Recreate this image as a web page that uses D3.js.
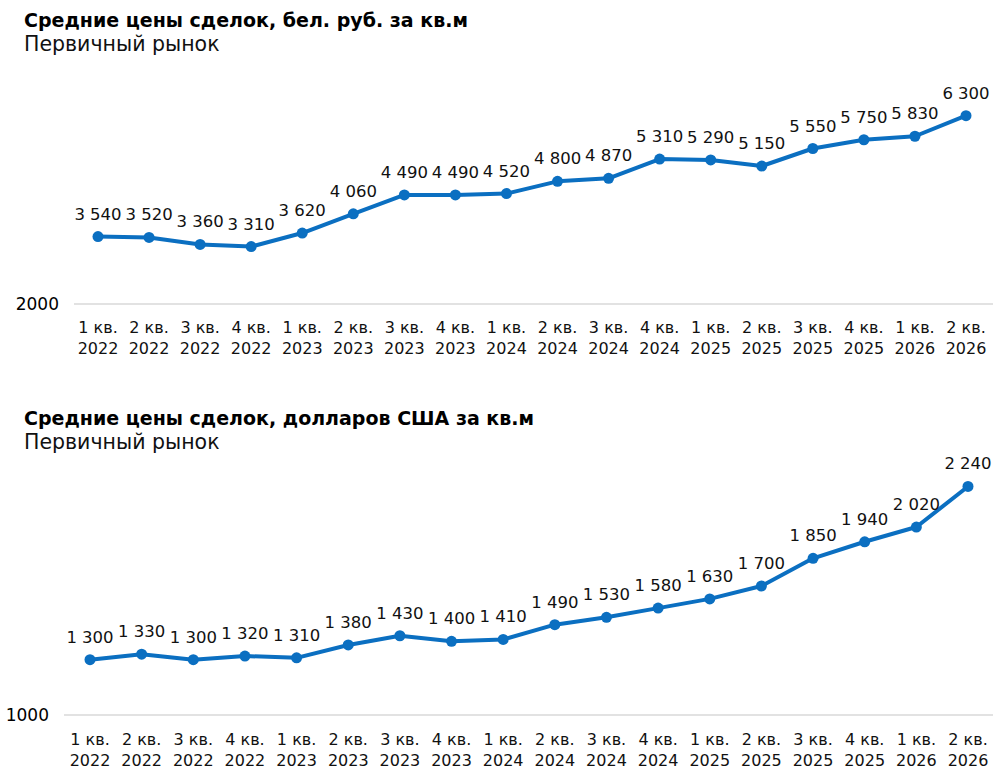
<!DOCTYPE html>
<html>
<head>
<meta charset="utf-8">
<script src="https://cdn.jsdelivr.net/npm/d3@7"></script>
<style>
  body { margin: 0; background: #fff; }
  svg { font-family: "DejaVu Sans", sans-serif; }
</style>
</head>
<body>
<svg id="chart" width="1000" height="783"></svg>
<script>
const quarters = ["1 кв.", "2 кв.", "3 кв.", "4 кв.", "1 кв.", "2 кв.", "3 кв.", "4 кв.", "1 кв.",
  "2 кв.", "3 кв.", "4 кв.", "1 кв.", "2 кв.", "3 кв.", "4 кв.", "1 кв.", "2 кв."];
const years = ["2022", "2022", "2022", "2022", "2023", "2023", "2023", "2023", "2024",
  "2024", "2024", "2024", "2025", "2025", "2025", "2025", "2026", "2026"];
const bynValues = [3540, 3520, 3360, 3310, 3620, 4060, 4490, 4490, 4520, 4800, 4870, 5310, 5290, 5150, 5550, 5750, 5830, 6300];
const usdValues = [1300, 1330, 1300, 1320, 1310, 1380, 1430, 1400, 1410, 1490, 1530, 1580, 1630, 1700, 1850, 1940, 2020, 2240];
const bynTicks = [2000];
const usdTicks = [1000];

const svg = d3.select("#chart");
const blue = "#0b6fc1";
const fmt = v => d3.format(",")(v).replace(/,/g, "\u00a0");

function drawPanel(opts) {
  const g = svg.append("g");
  const idx = d3.range(opts.values.length);

  const x = d3.scalePoint().domain(idx).range(opts.xRange);
  const y = d3.scaleLinear().domain(opts.yDomain).range(opts.yRange);

  g.append("text")
    .attr("x", 24).attr("y", opts.titleY)
    .attr("font-size", 19).attr("font-weight", "bold").attr("fill", "#000")
    .text(opts.title);
  g.append("text")
    .attr("x", 24).attr("y", opts.titleY + 24)
    .attr("font-size", 20.5).attr("fill", "#111")
    .text("Первичный рынок");

  // gridline + tick label
  g.selectAll(".grid")
    .data(opts.ticks)
    .enter()
    .append("line")
    .attr("x1", opts.gridX[0]).attr("x2", opts.gridX[1])
    .attr("y1", d => y(d)).attr("y2", d => y(d))
    .attr("stroke", "#d9d9d9").attr("stroke-width", 1.3);
  g.selectAll(".ytick")
    .data(opts.ticks)
    .enter()
    .append("text")
    .attr("x", opts.gridX[0] - 15).attr("y", d => y(d) + 6)
    .attr("text-anchor", "end").attr("font-size", 17).attr("fill", "#000")
    .text(d => d);

  // category labels
  const cat = g.selectAll(".cat")
    .data(idx)
    .enter()
    .append("text")
    .attr("text-anchor", "middle").attr("font-size", 16).attr("fill", "#111");
  cat.append("tspan").attr("x", d => x(d)).attr("y", opts.catY).text(d => quarters[d]);
  cat.append("tspan").attr("x", d => x(d)).attr("y", opts.catY + 21).text(d => years[d]);

  // line
  const line = d3.line().x(d => x(d)).y(d => y(opts.values[d]));
  g.append("path")
    .datum(idx)
    .attr("d", line)
    .attr("fill", "none").attr("stroke", blue).attr("stroke-width", 4)
    .attr("stroke-linejoin", "round");

  g.selectAll(".dot")
    .data(idx)
    .enter()
    .append("circle")
    .attr("cx", d => x(d)).attr("cy", d => y(opts.values[d]))
    .attr("r", 5.5).attr("fill", blue);

  g.selectAll(".val")
    .data(idx)
    .enter()
    .append("text")
    .attr("x", d => x(d)).attr("y", d => y(opts.values[d]) - 17)
    .attr("text-anchor", "middle").attr("font-size", 16.5).attr("fill", "#111")
    .text(d => fmt(opts.values[d]));
}

drawPanel({
  title: "Средние цены сделок, бел. руб. за кв.м",
  titleY: 27,
  values: bynValues,
  ticks: bynTicks,
  xRange: [98, 966],
  yDomain: [2000, 7000],
  yRange: [304, 85],
  gridX: [74, 993],
  catY: 333
});

drawPanel({
  title: "Средние цены сделок, долларов США за кв.м",
  titleY: 425,
  values: usdValues,
  ticks: usdTicks,
  xRange: [90, 968],
  yDomain: [1000, 2400],
  yRange: [715, 457],
  gridX: [64, 993],
  catY: 745
});
</script>
</body>
</html>
